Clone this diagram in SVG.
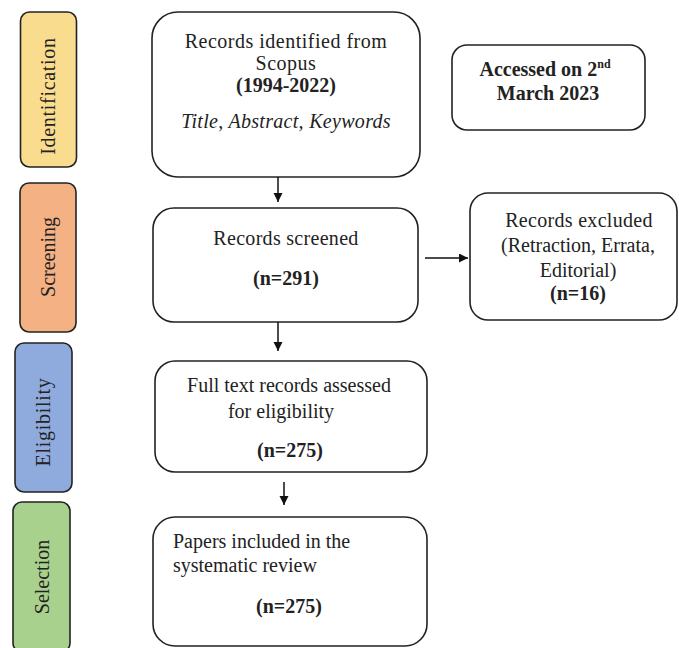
<svg xmlns="http://www.w3.org/2000/svg" width="679" height="648" viewBox="0 0 679 648">
<defs>
<marker id="ah" markerWidth="9" markerHeight="10" refX="9" refY="4.5" orient="auto" markerUnits="userSpaceOnUse"><path d="M0,0 L9,4.5 L0,9 Z" fill="#111"/></marker>
<style>
.side{stroke:#222;stroke-width:1.6}
.box{fill:#fff;stroke:#222;stroke-width:1.6}
.t{font-family:"Liberation Serif","Times New Roman",serif;font-size:20px;fill:#222}
.b{font-weight:bold}
.i{font-style:italic}
.c{text-anchor:middle}
.conn{stroke:#111;stroke-width:1.5;fill:none;marker-end:url(#ah)}
</style>
</defs>
<rect width="679" height="648" fill="#fff"/>
<g id="stage-identification">
<rect class="side" x="20.5" y="12" width="56" height="155" rx="9" fill="#FADC8E"/>
<text class="t c" transform="translate(55 96) rotate(-90)" letter-spacing="0.7">Identification</text>
</g>
<g id="stage-screening">
<rect class="side" x="20" y="183" width="56" height="149" rx="9" fill="#F4B183"/>
<text class="t c" transform="translate(55 257) rotate(-90)">Screening</text>
</g>
<g id="stage-eligibility">
<rect class="side" x="15" y="343" width="57" height="149" rx="9" fill="#8FAADC"/>
<text class="t c" transform="translate(50 422) rotate(-90)" letter-spacing="0.7">Eligibility</text>
</g>
<g id="stage-selection">
<rect class="side" x="13" y="502" width="57" height="150" rx="9" fill="#A9D18E"/>
<text class="t c" transform="translate(49 577) rotate(-90)">Selection</text>
</g>
<g id="identified">
<rect class="box" x="152" y="12" width="268" height="165" rx="26"/>
<text class="t c" x="286" y="48" letter-spacing="0.5">Records identified from</text>
<text class="t c" x="286" y="70" letter-spacing="0.5">Scopus</text>
<text class="t c b" x="286" y="92">(1994-2022)</text>
<text class="t c i" x="286" y="128" letter-spacing="0.3">Title, Abstract, Keywords</text>
</g>
<g id="accessed">
<rect class="box" x="452" y="45" width="193" height="85" rx="15"/>
<text class="t c b" x="545" y="76" font-size="19">Accessed on 2<tspan font-size="12" dy="-8">nd</tspan></text>
<text class="t c b" x="548" y="100" font-size="19">March 2023</text>
</g>
<g id="screened">
<rect class="box" x="153" y="208" width="265" height="114" rx="21"/>
<text class="t c" x="286" y="245" letter-spacing="0.3">Records screened</text>
<text class="t c b" x="286" y="285">(n=291)</text>
</g>
<g id="excluded">
<rect class="box" x="470" y="193" width="207" height="127" rx="18"/>
<text class="t c" x="579" y="227" letter-spacing="0.3">Records excluded</text>
<text class="t c" x="578" y="252">(Retraction, Errata,</text>
<text class="t c" x="578" y="277">Editorial)</text>
<text class="t c b" x="578" y="300">(n=16)</text>
</g>
<g id="eligible">
<rect class="box" x="155" y="361" width="272" height="111" rx="20"/>
<text class="t c" x="289" y="392">Full text records assessed</text>
<text class="t c" x="281" y="418">for eligibility</text>
<text class="t c b" x="290" y="457">(n=275)</text>
</g>
<g id="included">
<rect class="box" x="153" y="517" width="274" height="129" rx="22"/>
<text class="t" x="173" y="548">Papers included in the</text>
<text class="t" x="173" y="572">systematic review</text>
<text class="t c b" x="289" y="613">(n=275)</text>
</g>
<g id="connectors">
<line class="conn" x1="278" y1="177" x2="278" y2="202"/>
<line class="conn" x1="425" y1="258" x2="468" y2="258"/>
<line class="conn" x1="278" y1="322" x2="278" y2="351"/>
<line class="conn" x1="284" y1="482" x2="284" y2="505"/>
</g>
</svg>
